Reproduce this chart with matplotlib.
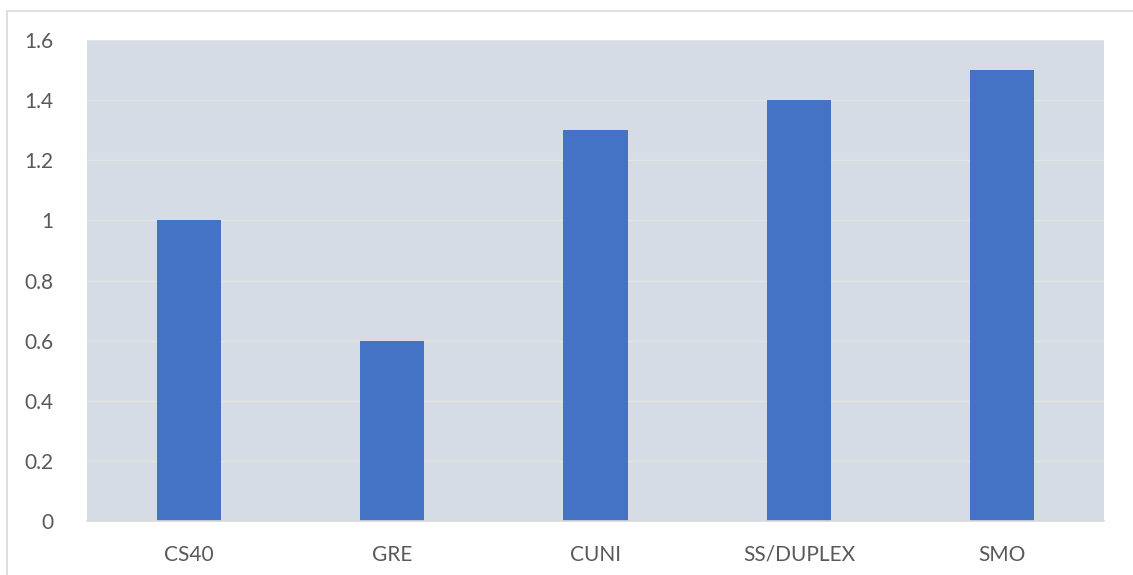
import matplotlib.pyplot as plt
from matplotlib.patches import Rectangle

categories = ['CS40', 'GRE', 'CUNI', 'SS/DUPLEX', 'SMO']
values = [1.0, 0.6, 1.3, 1.4, 1.5]
yticks = [0, 0.2, 0.4, 0.6, 0.8, 1.0, 1.2, 1.4, 1.6]
ytick_labels = ['0', '0.2', '0.4', '0.6', '0.8', '1', '1.2', '1.4', '1.6']

plt.rcParams['font.family'] = ['Lato', 'DejaVu Sans']

fig = plt.figure(figsize=(11.33, 5.75), dpi=100)
ax = fig.add_axes([0.0768, 0.0939, 0.8976, 0.8365])

# chart frame, open past the right and bottom edges
fig.patches.append(Rectangle((7 / 1133, -0.1), 1.2, 1 - 11 / 575 + 0.1,
                             transform=fig.transFigure, fill=False,
                             edgecolor='#D9D9D9', linewidth=1.2))

ax.set_facecolor('#D6DCE5')
x = range(len(categories))
ax.bar(x, values, width=0.315, color='#4472C4', zorder=3)

ax.set_xlim(-0.5, len(categories) - 0.5)
ax.set_ylim(0, 1.6)
ax.set_yticks(yticks)
ax.set_yticklabels(ytick_labels)
ax.set_xticks(list(x))
ax.set_xticklabels(categories)

ax.grid(axis='y', color='#E3E3E3', linewidth=1, zorder=1)
for side in ['left', 'right', 'top']:
    ax.spines[side].set_visible(False)
ax.spines['bottom'].set_color('#D9D9D9')
ax.spines['bottom'].set_linewidth(1.2)
ax.spines['bottom'].set_zorder(4)

ax.tick_params(axis='both', length=0, labelsize=15, colors='#595959')
ax.tick_params(axis='y', pad=24)
ax.tick_params(axis='x', pad=17)

fig.savefig('out.png', dpi=100)
